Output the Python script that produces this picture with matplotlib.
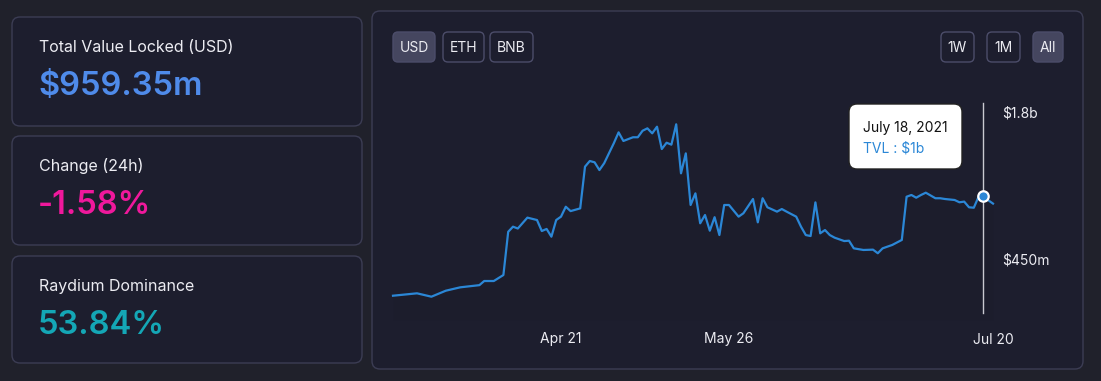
import numpy as np
import matplotlib
matplotlib.use("Agg")
import matplotlib.pyplot as plt
import matplotlib.dates as mdates
from matplotlib.patches import FancyBboxPatch

plt.rcParams['font.family'] = ['Inter', 'DejaVu Sans']

# TVL series, day offsets from 2021-04-21, values in $ billions
base_date = np.datetime64('2021-04-21')
day_offsets = [-35, -30, -27, -24, -21, -17, -16, -14, -12, -11, -10, -9, -7, -5, -4,
               -3, -2, -1, 0, 1, 2, 4, 5, 6, 7, 8, 9, 11, 12, 13, 15, 16, 17, 18, 19,
               20, 21, 22, 23, 24, 25, 26, 27, 28, 29, 30, 31, 32, 33, 34, 35, 37, 38,
               40, 41, 42, 43, 45, 46, 47, 49, 50, 51, 52, 53, 54, 55, 56, 57, 59, 60, 61,
               63, 65, 66, 67, 69, 71, 72, 73, 74, 75, 76, 78, 79, 80, 82, 83, 84, 85,
               86, 87, 88, 89, 90]
tvl = [0.113, 0.135, 0.104, 0.159, 0.190, 0.210, 0.248, 0.248, 0.303, 0.700, 0.747,
       0.730, 0.830, 0.808, 0.707, 0.726, 0.655, 0.808, 0.839, 0.930, 0.890, 0.915,
       1.298, 1.350, 1.338, 1.267, 1.330, 1.513, 1.613, 1.534, 1.568, 1.568, 1.628,
       1.650, 1.604, 1.665, 1.460, 1.518, 1.500, 1.687, 1.237, 1.420, 0.946, 1.053,
       0.778, 0.854, 0.710, 0.834, 0.670, 0.946, 0.946, 0.839, 0.870, 1.001, 0.787,
       1.008, 0.925, 0.885, 0.909, 0.885, 0.839, 0.747, 0.670, 0.661, 0.970, 0.686,
       0.716, 0.670, 0.646, 0.615, 0.618, 0.548, 0.533, 0.536, 0.503, 0.548, 0.579,
       0.625, 1.022, 1.038, 1.013, 1.038, 1.059, 1.008, 1.008, 1.001, 0.992, 0.971,
       0.977, 0.925, 0.921, 1.022, 1.029, 0.990, 0.959]
dates = base_date + np.array(day_offsets).astype('timedelta64[D]')

xtick_dates = ['2021-04-21', '2021-05-26', '2021-07-20']
xtick_labels = ['Apr 21', 'May 26', 'Jul 20']
ytick_vals = [0.45, 1.8]
ytick_labels = ['$450m', '$1.8b']
hover_date = '2021-07-18'
hover_value = 1.029

cards = [('Total Value Locked (USD)', '$959.35m', '#4f8bea'),
         ('Change (24h)', '-1.58%', '#f0189c'),
         ('Raydium Dominance', '53.84%', '#14a7b6')]

W, H = 1101, 381
BG = '#20212b'
PANEL = '#1d1e2e'
EDGE = '#3c3d54'
TXT = '#ececf2'
LINE = '#2b87d6'

fig = plt.figure(figsize=(W / 100, H / 100), dpi=100, facecolor=BG)

# background decorations in pixel coordinates
ov = fig.add_axes([0, 0, 1, 1], zorder=0)
ov.set_xlim(0, W)
ov.set_ylim(H, 0)
ov.axis('off')


def rbox(a, x0, y0, x1, y1, fc, ec, r=7, lw=1.0):
    a.add_patch(FancyBboxPatch((x0, y0), x1 - x0, y1 - y0,
                               boxstyle='round,pad=0,rounding_size=%d' % r,
                               fc=fc, ec=ec, lw=lw))


card_y = [(17, 126), (136, 245), (256, 363)]
for (title, val, col), (y0, y1) in zip(cards, card_y):
    rbox(ov, 12, y0, 362, y1, PANEL, EDGE, r=8)
    ov.text(39, y0 + 35.5, title, color=TXT, fontsize=11.5, va='baseline', ha='left')
    ov.text(38, y0 + 78.5, val, color=col, fontsize=23.5, fontweight='semibold',
            va='baseline', ha='left')

rbox(ov, 372, 11, 1083, 369, PANEL, EDGE, r=8)

buttons = [('USD', 393, 435, True), ('ETH', 443, 484, False), ('BNB', 490, 533, False),
           ('1W', 941, 974, False), ('1M', 987, 1020, False), ('All', 1033, 1063, True)]
for lab, x0, x1, active in buttons:
    rbox(ov, x0, 32, x1, 62, '#45465f' if active else PANEL, '#4c4d6a', r=5)
    ov.text((x0 + x1) / 2, 47.5, lab, color=TXT, fontsize=10, ha='center', va='center')

# line chart
px_left, px_right, px_top, px_bot = 380, 997, 90, 320
ax = fig.add_axes([px_left / W, (H - px_bot) / H, (px_right - px_left) / W,
                   (px_bot - px_top) / H], zorder=1)
ax.patch.set_alpha(0)
base_num = mdates.date2num(base_date)
ax.set_xlim(base_num + (px_left - 561) / 4.8, base_num + (px_right - 561) / 4.8)
ax.set_ylim(1.8 - (px_bot - 112) / 108.9, 1.8 + (112 - px_top) / 108.9)
for s in ax.spines.values():
    s.set_visible(False)

ax.fill_between(dates, tvl, ax.get_ylim()[0], color='#15151f', alpha=0.1, lw=0)
ax.plot(dates, tvl, color=LINE, lw=1.6, solid_joinstyle='round')

hd = np.datetime64(hover_date)
ax.axvline(hd, ymin=0.03, ymax=0.943, color='#c9c9d0', lw=1)
ax.plot([hd], [hover_value], 'o', ms=7.5, mfc=LINE, mec='white', mew=1.6)

ax.set_xticks(np.array(xtick_dates, dtype='datetime64[D]'))
ax.set_xticklabels(xtick_labels)
ax.set_yticks(ytick_vals)
ax.set_yticklabels(ytick_labels)
ax.yaxis.tick_right()
ax.tick_params(axis='x', length=0, pad=9, labelsize=10, labelcolor=TXT)
ax.tick_params(axis='y', length=0, pad=3.6, labelsize=10, labelcolor=TXT)
for t in ax.get_yticklabels():
    t.set_ha('left')

# tooltip on top
top = fig.add_axes([0, 0, 1, 1], zorder=2)
top.set_xlim(0, W)
top.set_ylim(H, 0)
top.axis('off')
rbox(top, 849, 104, 962, 169, 'white', '#222222', r=8)
top.text(863, 132, 'July 18, 2021', color='#111111', fontsize=10, va='baseline')
top.text(863, 152, 'TVL : $1b', color=LINE, fontsize=10, va='baseline')

fig.savefig('out.png', dpi=100, facecolor=BG)
